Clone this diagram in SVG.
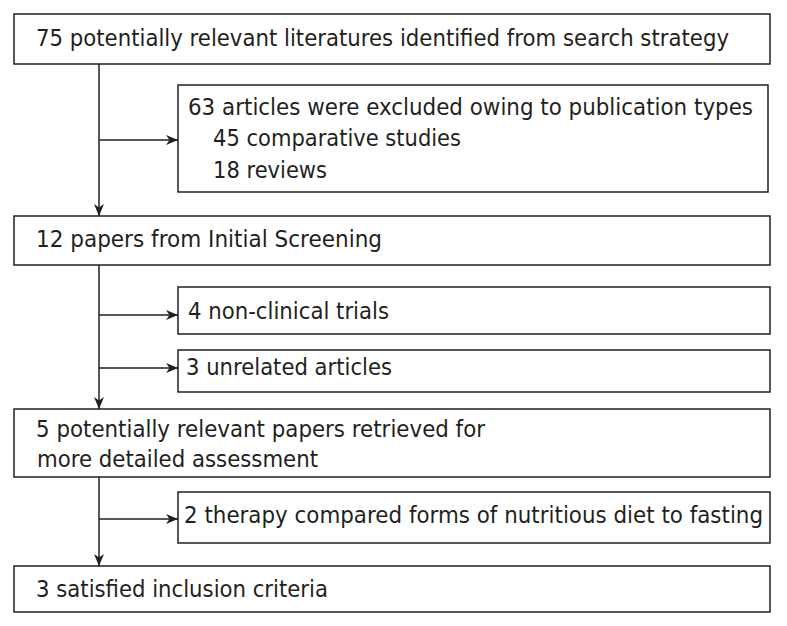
<svg xmlns="http://www.w3.org/2000/svg" width="787" height="626" viewBox="0 0 787 626">
<defs>
<marker id="ah" markerWidth="13" markerHeight="10" refX="12" refY="5" orient="auto" markerUnits="userSpaceOnUse">
<path d="M0,0 L12,5 L0,10 L3.5,5 Z" fill="#231f20"/>
</marker>
<style>
.box{fill:#fff;stroke:#231f20;stroke-width:1.5}
.t{font-family:"DejaVu Sans",Verdana,sans-serif;font-size:23px;fill:#231f20}
.c{fill:none;stroke:#231f20;stroke-width:1.5}
</style>
</defs>
<rect width="787" height="626" fill="#fff"/>
<g id="connectors">
<line class="c" x1="99" y1="64" x2="99" y2="216" marker-end="url(#ah)"/>
<line class="c" x1="99" y1="140" x2="178" y2="140" marker-end="url(#ah)"/>
<line class="c" x1="99" y1="265" x2="99" y2="409" marker-end="url(#ah)"/>
<line class="c" x1="99" y1="315" x2="178" y2="315" marker-end="url(#ah)"/>
<line class="c" x1="99" y1="368" x2="178" y2="368" marker-end="url(#ah)"/>
<line class="c" x1="99" y1="477" x2="99" y2="566" marker-end="url(#ah)"/>
<line class="c" x1="99" y1="519" x2="178" y2="519" marker-end="url(#ah)"/>
</g>
<g id="n1"><rect class="box" x="14" y="14" width="756" height="50"/>
<text class="t" x="36" y="46" textLength="693" lengthAdjust="spacingAndGlyphs">75 potentially relevant literatures identified from search strategy</text></g>
<g id="n2"><rect class="box" x="178" y="85" width="590" height="107"/>
<text class="t" x="188" y="115" textLength="565" lengthAdjust="spacingAndGlyphs">63 articles were excluded owing to publication types</text>
<text class="t" x="213" y="146" textLength="248" lengthAdjust="spacingAndGlyphs">45 comparative studies</text>
<text class="t" x="213" y="178" textLength="114" lengthAdjust="spacingAndGlyphs">18 reviews</text></g>
<g id="n3"><rect class="box" x="14" y="216" width="756" height="49"/>
<text class="t" x="36" y="247" textLength="346" lengthAdjust="spacingAndGlyphs">12 papers from Initial Screening</text></g>
<g id="n4"><rect class="box" x="178" y="287" width="592" height="47"/>
<text class="t" x="188" y="319" textLength="201" lengthAdjust="spacingAndGlyphs">4 non-clinical trials</text></g>
<g id="n5"><rect class="box" x="178" y="350" width="592" height="42"/>
<text class="t" x="186" y="375" textLength="206" lengthAdjust="spacingAndGlyphs">3 unrelated articles</text></g>
<g id="n6"><rect class="box" x="14" y="409" width="756" height="68"/>
<text class="t" x="36" y="437" textLength="449" lengthAdjust="spacingAndGlyphs">5 potentially relevant papers retrieved for</text>
<text class="t" x="37" y="467" textLength="281" lengthAdjust="spacingAndGlyphs">more detailed assessment</text></g>
<g id="n7"><rect class="box" x="178" y="492" width="592" height="51"/>
<text class="t" x="184" y="523" textLength="579" lengthAdjust="spacingAndGlyphs">2 therapy compared forms of nutritious diet to fasting</text></g>
<g id="n8"><rect class="box" x="14" y="566" width="756" height="46"/>
<text class="t" x="36" y="597" textLength="292" lengthAdjust="spacingAndGlyphs">3 satisfied inclusion criteria</text></g>
</svg>
